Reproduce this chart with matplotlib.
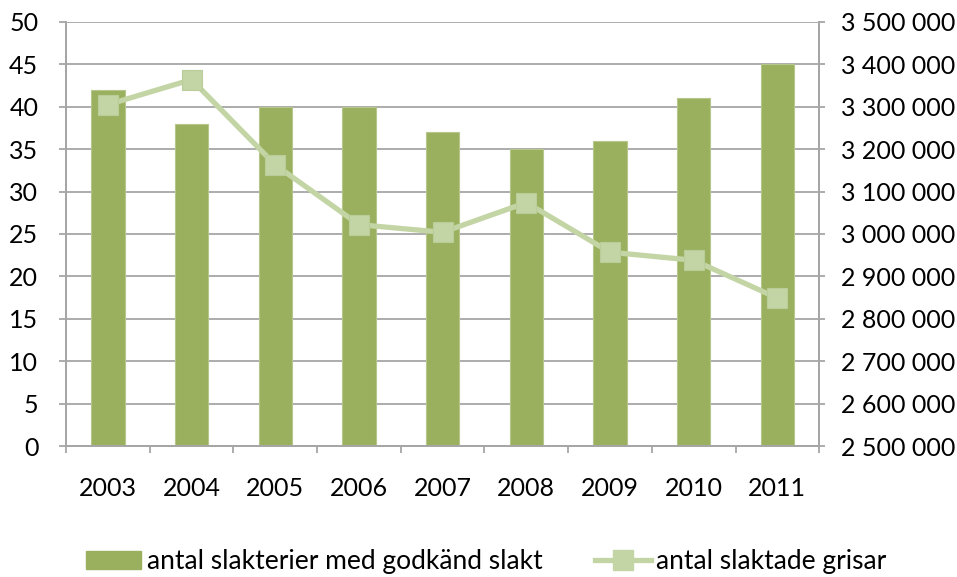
import matplotlib
matplotlib.use("Agg")
import matplotlib.pyplot as plt
from matplotlib.ticker import FuncFormatter, MultipleLocator
from matplotlib.lines import Line2D
from matplotlib.patches import Patch

plt.rcParams['font.family'] = ['Lato', 'DejaVu Sans']

years = ["2003", "2004", "2005", "2006", "2007", "2008", "2009", "2010", "2011"]
slakterier = [42, 38, 40, 40, 37, 35, 36, 41, 45]
grisar = [3305000, 3364000, 3163000, 3022000, 3004000, 3074000, 2957000, 2938000, 2849000]

bar_color = "#9BB05E"
line_color = "#C4D5A5"
grid_color = "#A6A6A6"

fig = plt.figure(figsize=(9.57, 5.77), dpi=100)
ax = fig.add_axes([0.069, 0.227, 0.787, 0.735])
ax2 = ax.twinx()

x = list(range(len(years)))
ax.bar(x, slakterier, width=0.4, color=bar_color, edgecolor="#B5C78A", linewidth=0.8, zorder=2)
ax2.plot(x, grisar, color=line_color, lw=3.8, marker="s", ms=15,
         markerfacecolor=line_color, markeredgecolor="#B9CD98", markeredgewidth=0.8, zorder=3)

ax.set_xlim(-0.5, len(years) - 0.5)
ax.set_ylim(0, 50)
ax.yaxis.set_major_locator(MultipleLocator(5))
ax2.set_ylim(2500000, 3500000)
ax2.yaxis.set_major_locator(MultipleLocator(100000))
ax2.yaxis.set_major_formatter(FuncFormatter(lambda v, p: f"{int(v):,}".replace(",", " ")))

ax.grid(axis="y", color=grid_color, lw=1.3, zorder=0)
ax.set_axisbelow(True)

for a in (ax, ax2):
    a.spines["top"].set_visible(False)
    for s in ("left", "right", "bottom"):
        a.spines[s].set_color(grid_color)
        a.spines[s].set_linewidth(1.3)

ax.set_xticks([i - 0.5 for i in range(len(years) + 1)])
ax.set_xticklabels([])
ax.set_xticks(x, minor=True)
ax.set_xticklabels(years, minor=True)
ax.tick_params(axis="x", which="major", length=5, color=grid_color, width=1.3)
ax.tick_params(axis="x", which="minor", length=0, pad=22, labelsize=18)
ax.tick_params(axis="y", length=5, color=grid_color, width=1.3, labelsize=18, pad=15)
ax2.tick_params(axis="y", length=4.5, color=grid_color, width=1.3, labelsize=18, pad=11)

handles = [Patch(facecolor=bar_color, edgecolor=bar_color),
           Line2D([], [], color=line_color, lw=3.8, marker="s", ms=14,
                  markerfacecolor=line_color, markeredgecolor=line_color)]
fig.legend(handles, ["antal slakterier med godkänd slakt", "antal slaktade grisar"],
           loc="center", bbox_to_anchor=(0.508, 0.026), ncol=2, frameon=False,
           fontsize=19, handlelength=2.1, handletextpad=0.2, columnspacing=2.0)

fig.savefig("out.png", dpi=100)
